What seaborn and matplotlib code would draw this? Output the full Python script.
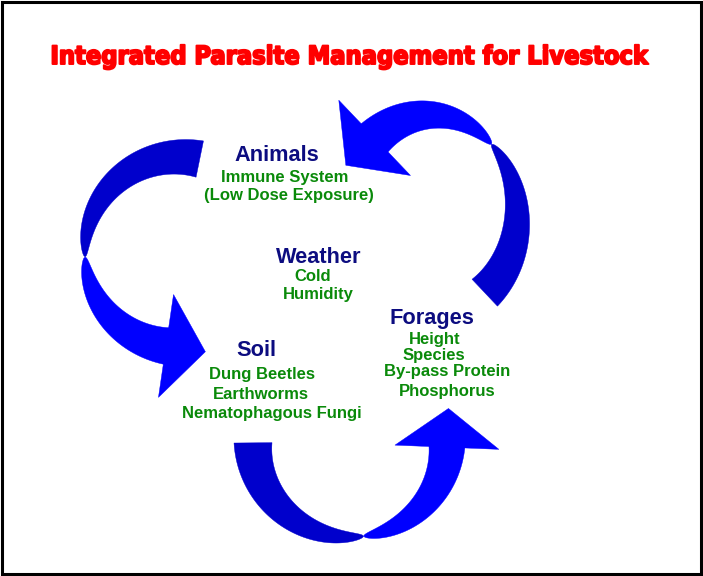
import numpy as np
import matplotlib
matplotlib.use("Agg")
import matplotlib.pyplot as plt
import seaborn as sns
from matplotlib.patches import Polygon, Rectangle
import matplotlib.patheffects as pe
from matplotlib import font_manager
from matplotlib.font_manager import FontProperties

# ---------------- content ----------------
TITLE = "Integrated Parasite Management for Livestock"
HEADINGS = ["Animals", "Weather", "Forages", "Soil"]
DETAILS_ANIMALS = ["Immune System", "(Low Dose Exposure)"]
DETAILS_WEATHER = ["Cold", "Humidity"]
DETAILS_FORAGES = ["Height", "Species", "By-pass Protein", "Phosphorus"]
DETAILS_SOIL = ["Dung Beetles", "Earthworms", "Nematophagous Fungi"]
CYCLE = [("Animals", "Soil"), ("Soil", "Forages"), ("Forages", "Animals")]

# ---------------- layout (pixel space, y down) ----------------
W, H = 703, 576
HEAD_POS = {"Animals": (276.5, 161), "Weather": (319, 263),
            "Forages": (432, 324), "Soil": (256, 356)}
DETAIL_POS = {
    "Animals": [(285, 182), (288.5, 200)],
    "Weather": [(313, 281), (318, 299)],
    "Forages": [(435, 344), (434, 360), (447, 376), (447, 396)],
    "Soil": [(262, 379), (261, 399), (272, 418)],
}
DETAILS = {"Animals": DETAILS_ANIMALS, "Weather": DETAILS_WEATHER,
           "Forages": DETAILS_FORAGES, "Soil": DETAILS_SOIL}

# arrow geometry: centre, radii, rotation, angles (start, twist, end), half widths, head
ARROW_GEOM = {
    ("Animals", "Soil"): dict(c=(180, 252), rx=95, ry=95, rot=0,
                              t=(78, 183, 262), ws=18.5, we=18.5, hw=52, hl=39),
    ("Soil", "Forages"): dict(c=(350, 443), rx=97, ry=94, rot=3,
                              t=(183, 281, 361), ws=19, we=18, hw=52, hl=38),
    ("Forages", "Animals"): dict(c=(430, 215), rx=87, ry=100, rot=0,
                                 t=(-51, 45, 130), ws=18.5, we=19.5, hw=52, hl=39),
}

NAVY = "#0c0c80"
GREEN = "#0a8a0a"
DARK_BLUE = "#0000cc"
BRIGHT_BLUE = "#0000ff"
RED = "#ff0000"

sns.set_theme(style="white")
plt.rcParams["font.family"] = ["Liberation Sans", "DejaVu Sans"]

fig = plt.figure(figsize=(W / 100, H / 100), dpi=100)
ax = fig.add_axes([0, 0, 1, 1])
ax.set_xlim(0, W)
ax.set_ylim(H, 0)
ax.axis("off")


def centre_line(g, th):
    a = np.radians(th)
    phi = np.radians(g["rot"])
    lx = g["rx"] * np.cos(a)
    ly = -g["ry"] * np.sin(a)
    x = g["c"][0] + lx * np.cos(phi) - ly * np.sin(phi)
    y = g["c"][1] + lx * np.sin(phi) + ly * np.cos(phi)
    return np.column_stack([x, y])


def ribbon(g, th, widths, color):
    p = centre_line(g, th)
    d = np.gradient(p, axis=0)
    d /= np.linalg.norm(d, axis=1)[:, None]
    n = np.column_stack([-d[:, 1], d[:, 0]])
    outer = p + n * widths[:, None]
    inner = p - n * widths[:, None]
    poly = np.vstack([outer, inner[::-1]])
    ax.add_patch(Polygon(poly, closed=True, facecolor=color, edgecolor=color,
                         lw=0.3, zorder=2))
    return p, d, n


for key in CYCLE:
    g = ARROW_GEOM[key]
    ts, tp, te = g["t"]
    th1 = np.linspace(ts, tp, 120)
    w1 = g["ws"] * np.clip((tp - th1) / (tp - ts), 0, 1) ** 0.55
    ribbon(g, th1, w1, DARK_BLUE)
    th2 = np.linspace(tp, te, 120)
    w2 = g["we"] * np.clip((th2 - tp) / (te - tp), 0, 1) ** 0.55
    p, d, n = ribbon(g, th2, w2, BRIGHT_BLUE)
    base = p[-1] - d[-1] * 0.8
    tri = np.array([base + n[-1] * g["hw"], p[-1] + d[-1] * g["hl"],
                    base - n[-1] * g["hw"]])
    ax.add_patch(Polygon(tri, closed=True, facecolor=BRIGHT_BLUE,
                         edgecolor=BRIGHT_BLUE, lw=0.3, zorder=2))

# labels
for name in HEADINGS:
    x, y = HEAD_POS[name]
    ax.text(x, y, name, ha="center", va="baseline", fontsize=15.7,
            fontweight="bold", color=NAVY, zorder=3)
    for line, (lx, ly) in zip(DETAILS[name], DETAIL_POS[name]):
        ax.text(lx, ly, line, ha="center", va="baseline", fontsize=12,
                fontweight="bold", color=GREEN, zorder=3)

# title: prefer a narrow / condensed bold face if one is installed
def pick_title_font():
    files = [f.fname for f in font_manager.fontManager.ttflist]
    prefs = ["LiberationSansNarrow-Bold.", "DejaVuSansCondensed-Bold.",
             "RobotoCondensed-Bold", "Roboto_Condensed-Bold", "OpenSans_Condensed-Bold",
             "OpenSansCondensed-Bold", "NotoSans-CondensedBold", "NotoSansCondensed-Bold",
             "Roboto-Black", "Lato-Black", "Inter-Black"]
    for pref in prefs:
        for fn in files:
            if pref.lower() in fn.lower().replace(" ", ""):
                return FontProperties(fname=fn)
    for fn in files:
        low = fn.lower()
        if ("condensed" in low or "narrow" in low) and "bold" in low and "oblique" not in low and "italic" not in low:
            return FontProperties(fname=fn)
    return FontProperties(family="DejaVu Sans", weight="bold", stretch="condensed")


tfp = pick_title_font()
title = ax.text(349.5, 64, TITLE, ha="center", va="baseline", fontproperties=tfp,
                color=RED, zorder=3,
                path_effects=[pe.withStroke(linewidth=1.4, foreground=RED)])
title.set_fontsize(20)
fig.canvas.draw()
bb = title.get_window_extent()
title.set_fontsize(20 * 598 / bb.width)

# frame
ax.add_patch(Rectangle((2.2, 2.2), 699.1, 571.8, fill=False, edgecolor="black",
                       lw=2.2, zorder=4))

fig.savefig("out.png", dpi=100)
